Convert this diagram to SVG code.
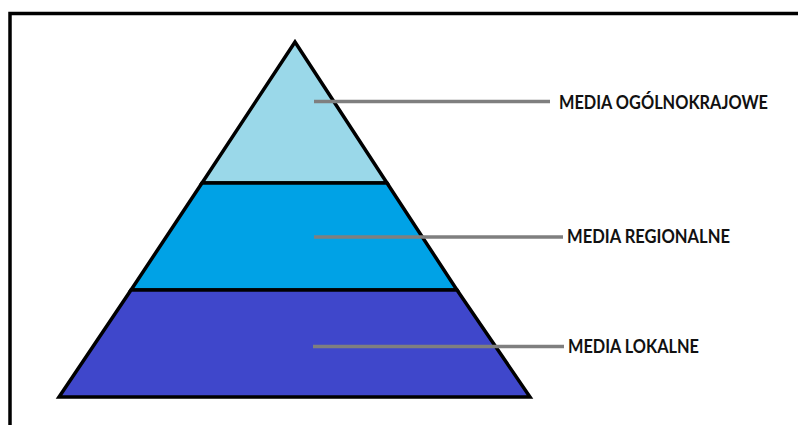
<svg xmlns="http://www.w3.org/2000/svg" width="798" height="425" viewBox="0 0 798 425">
<style>
.tier{stroke:#000;stroke-width:3.5;stroke-linejoin:miter}
.lead{stroke:#7f7f7f;stroke-width:3.5;fill:none}
.lbl{font-family:"Lato","Open Sans","Liberation Sans",sans-serif;font-weight:bold;font-size:18px;fill:#111}
</style>
<rect width="798" height="425" fill="#fff"/>
<path d="M10,425 V13.5 H798" fill="none" stroke="#000" stroke-width="3.5"/>
<g id="tier-top"><polygon class="tier" points="295,42 387,183 202,183" fill="#9ad8e9"/></g>
<g id="tier-middle"><polygon class="tier" points="202,183 387,183 457,290 131,290" fill="#00a2e6"/></g>
<g id="tier-bottom"><polygon class="tier" points="131,290 457,290 530,397 59,397" fill="#3f47cb"/></g>
<g id="connectors">
<line class="lead" x1="314" y1="101.5" x2="550" y2="101.5"/>
<line class="lead" x1="314" y1="237" x2="563" y2="237"/>
<line class="lead" x1="313" y1="346.5" x2="564" y2="346.5"/>
</g>
<g id="label-top"><text class="lbl" x="559" y="108.5" textLength="209" lengthAdjust="spacingAndGlyphs">MEDIA OGÓLNOKRAJOWE</text></g>
<g id="label-middle"><text class="lbl" x="567" y="243" textLength="163" lengthAdjust="spacingAndGlyphs">MEDIA REGIONALNE</text></g>
<g id="label-bottom"><text class="lbl" x="568" y="353" textLength="131" lengthAdjust="spacingAndGlyphs">MEDIA LOKALNE</text></g>
</svg>
